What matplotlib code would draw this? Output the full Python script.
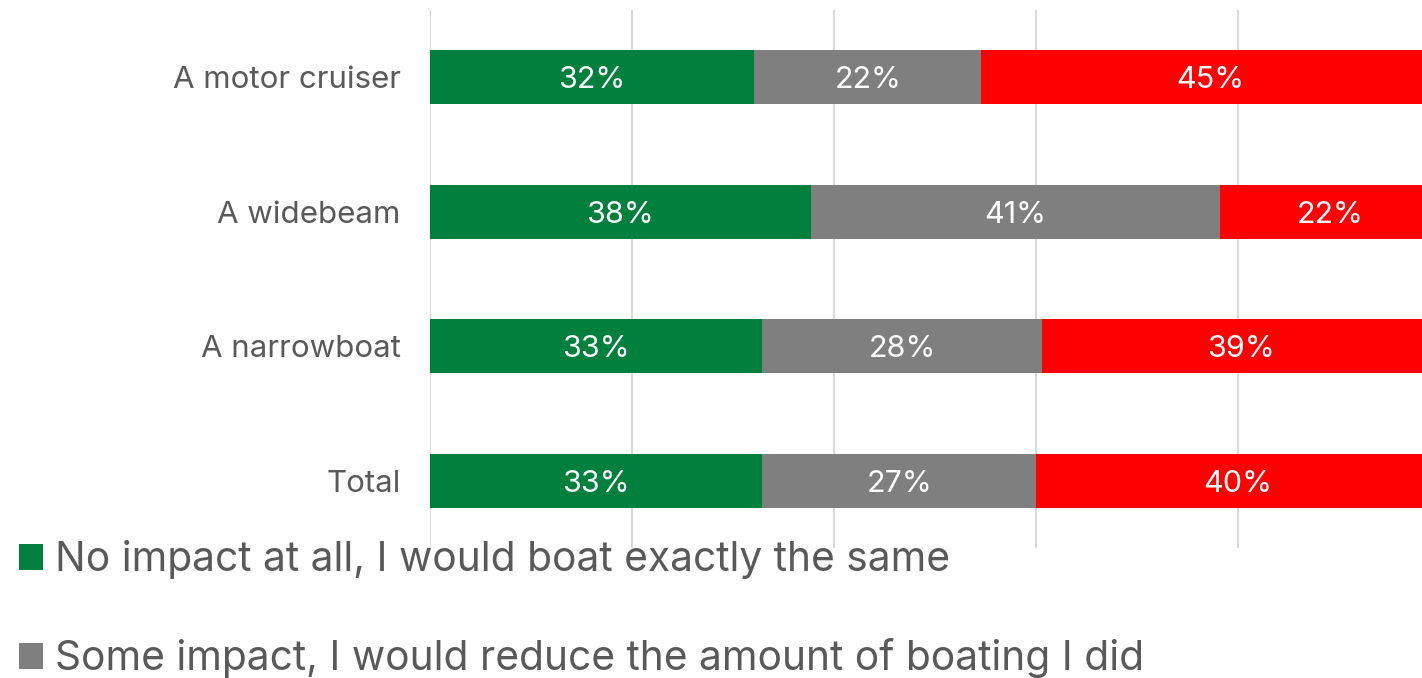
import matplotlib.pyplot as plt
import numpy as np

plt.rcParams['font.family'] = ['Inter', 'DejaVu Sans']

# Data (shares in %)
categories = ['A motor cruiser', 'A widebeam', 'A narrowboat', 'Total']
no_impact = [32.1, 37.7, 32.9, 32.9]
some_impact = [22.5, 40.5, 27.7, 27.1]
big_impact = [45.4, 21.8, 39.4, 40.0]
series_names = ['No impact at all, I would boat exactly the same',
                'Some impact, I would reduce the amount of boating I did']
labels = [['32%', '38%', '33%', '33%'],
          ['22%', '41%', '28%', '27%'],
          ['45%', '22%', '39%', '40%']]
colors = ['#00803C', '#7F7F7F', '#FF0000']
text_color = '#595959'

fig = plt.figure(figsize=(14.22, 6.78), dpi=100)
ax = fig.add_axes([430 / 1422, 1 - 548 / 678, 1010 / 1422, 538 / 678])

y = np.arange(len(categories))
left = np.zeros(len(categories))
handles = []
for vals, lab, col in zip([no_impact, some_impact, big_impact], labels, colors):
    bars = ax.barh(y, vals, left=left, height=0.4, color=col)
    handles.append(bars)
    for i, v in enumerate(vals):
        ax.text(left[i] + v / 2, y[i], lab[i], ha='center', va='center_baseline',
                color='white', fontsize=22)
    left += np.array(vals)

ax.set_xlim(0, 100)
ax.set_ylim(3.5, -0.5)
ax.set_xticks([0, 20, 40, 60, 80, 100])
ax.set_xticklabels([])
ax.grid(axis='x', color='#D9D9D9', linewidth=1.5)
ax.set_axisbelow(True)
ax.tick_params(length=0)
ax.set_yticks(y)
ax.set_yticklabels(categories, fontsize=22.5, color=text_color)
ax.tick_params(axis='y', pad=21)
for s in ax.spines.values():
    s.set_visible(False)

# only the first two legend entries are visible in the cropped chart
fig.legend(handles=handles[:2], labels=series_names, loc='upper left',
           bbox_to_anchor=(19 / 1422, 1 - 540 / 678),
           frameon=False, fontsize=29.3, labelcolor=text_color, handlelength=0.6,
           handleheight=0.6, handletextpad=0.28, labelspacing=1.45,
           borderpad=0, borderaxespad=0)

fig.savefig('out.png', dpi=100)
